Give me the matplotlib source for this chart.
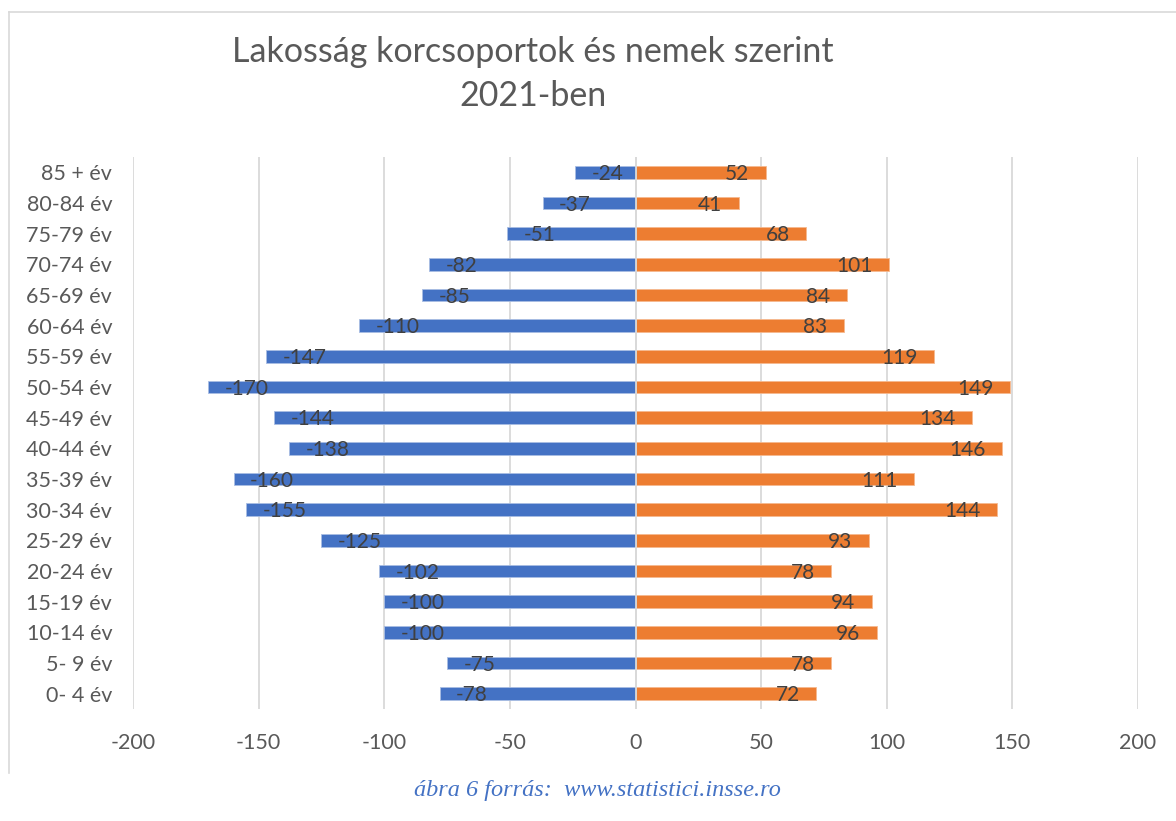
import matplotlib
matplotlib.use("Agg")
import matplotlib.pyplot as plt
from matplotlib.lines import Line2D
import numpy as np

categories = ["85 + év", "80-84 év", "75-79 év", "70-74 év", "65-69 év", "60-64 év",
              "55-59 év", "50-54 év", "45-49 év", "40-44 év", "35-39 év", "30-34 év",
              "25-29 év", "20-24 év", "15-19 év", "10-14 év", "5- 9 év", "0- 4 év"]
male = [-24, -37, -51, -82, -85, -110, -147, -170, -144, -138, -160, -155,
        -125, -102, -100, -100, -75, -78]
female = [52, 41, 68, 101, 84, 83, 119, 149, 134, 146, 111, 144,
          93, 78, 94, 96, 78, 72]
xticks = [-200, -150, -100, -50, 0, 50, 100, 150, 200]

title = "Lakosság korcsoportok és nemek szerint\n2021-ben"
caption = "ábra 6 forrás:  www.statistici.insse.ro"

BLUE = "#4472C4"
ORANGE = "#ED7D31"
GRID = "#D9D9D9"
TXT = "#595959"
LBL = "#404040"
FONT = "Lato"

W, H = 1176, 821
fig = plt.figure(figsize=(W / 100, H / 100), dpi=100)
fig.patch.set_facecolor("white")

# outer frame: top and left edges only
fig.add_artist(Line2D([9 / W, 1.0], [1 - 12 / H, 1 - 12 / H], transform=fig.transFigure,
                      color=GRID, linewidth=1.2))
fig.add_artist(Line2D([9 / W, 9 / W], [1 - 12 / H, 1 - 773 / H], transform=fig.transFigure,
                      color=GRID, linewidth=1.2))

ax = fig.add_axes([133 / W, 1 - 709 / H, (1138 - 133) / W, (709 - 157) / H])
n = len(categories)
y = np.arange(n)[::-1]
h = 0.41
ax.barh(y, male, height=h, color=BLUE, edgecolor="#A9BDE3", linewidth=0.6, zorder=2)
ax.barh(y, female, height=h, color=ORANGE, edgecolor="#F5B98F", linewidth=0.6, zorder=2)
ax.axvline(0, color=GRID, linewidth=1.3, zorder=3)

ax.set_xlim(-200, 200)
ax.set_ylim(-0.5, n - 0.5)
ax.set_xticks(xticks)
ax.set_xticklabels([str(v) for v in xticks])
ax.set_yticks(y)
ax.set_yticklabels(categories)
ax.grid(axis="x", color=GRID, linewidth=1.3, zorder=0)
ax.set_axisbelow(True)
for s in ax.spines.values():
    s.set_visible(False)
ax.tick_params(axis="both", length=0, labelsize=15.5, colors=TXT)
ax.tick_params(axis="x", pad=17)
ax.tick_params(axis="y", pad=15)
for t in ax.get_xticklabels() + ax.get_yticklabels():
    t.set_fontfamily(FONT)

for yi, v in zip(y, male):
    ax.annotate(str(v), (v, yi), xytext=(12, -5.6), textcoords="offset points",
                ha="left", va="baseline", fontsize=15, color=LBL,
                fontfamily=FONT, zorder=4)
for yi, v in zip(y, female):
    ax.annotate(str(v), (v, yi), xytext=(-12, -5.6), textcoords="offset points",
                ha="right", va="baseline", fontsize=15, color=LBL,
                fontfamily=FONT, zorder=4)

fig.text(533 / W, 1 - 74 / H, title, ha="center", va="center", fontsize=24.5,
         color=TXT, fontfamily=FONT, linespacing=1.5)

fig.text(597 / W, 1 - 790 / H, caption, ha="center", va="center", fontsize=17.5,
         color=BLUE, fontfamily="Liberation Serif", style="italic")

fig.savefig("out.png", dpi=100)
